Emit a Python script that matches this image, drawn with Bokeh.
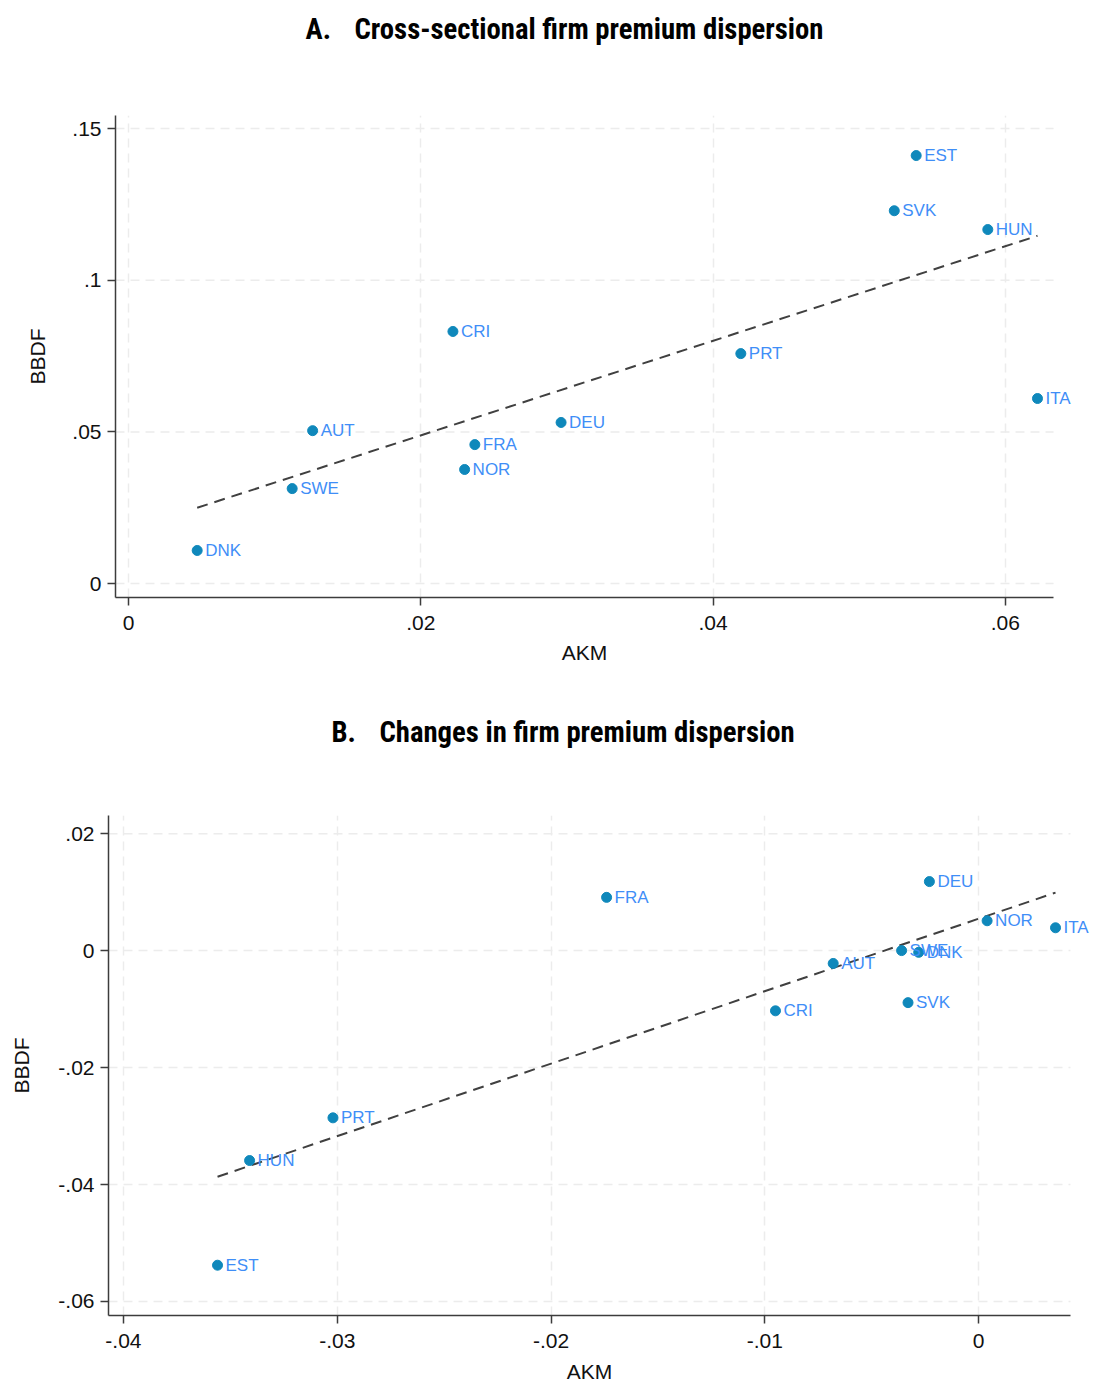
import numpy as np
from bokeh.plotting import figure
from bokeh.models import ColumnDataSource, Range1d, FixedTicker, LabelSet
from bokeh.core.properties import value
from bokeh.embed import file_html
from bokeh.resources import INLINE

# ---------------- data ----------------
# Panel A: cross-sectional firm premium dispersion
a_countries = ["EST", "SVK", "HUN", "CRI", "PRT", "ITA", "DEU", "AUT", "FRA", "NOR", "SWE", "DNK"]
a_akm = [0.0539, 0.0524, 0.0588, 0.0222, 0.0419, 0.0622, 0.0296, 0.0126, 0.0237, 0.0230, 0.0112, 0.0047]
a_bbdf = [0.1411, 0.1229, 0.1167, 0.0831, 0.0758, 0.0610, 0.0531, 0.0504, 0.0458, 0.0376, 0.0313, 0.0109]

# Panel B: changes in firm premium dispersion
b_countries = ["FRA", "DEU", "NOR", "ITA", "SWE", "DNK", "AUT", "SVK", "CRI", "PRT", "HUN", "EST"]
b_akm = [-0.0174, -0.0023, 0.0004, 0.0036, -0.0036, -0.0028, -0.0068, -0.0033, -0.0095, -0.0302, -0.0341, -0.0356]
b_bbdf = [0.0091, 0.0118, 0.0051, 0.0039, 0.0000, -0.0003, -0.0022, -0.0089, -0.0103, -0.0286, -0.0359, -0.0538]

a_xticks = [0.0, 0.02, 0.04, 0.06]
a_xlabels = ["0", ".02", ".04", ".06"]
a_yticks = [0.0, 0.05, 0.1, 0.15]
a_ylabels = ["0", ".05", ".1", ".15"]

b_xticks = [-0.04, -0.03, -0.02, -0.01, 0.0]
b_xlabels = ["-.04", "-.03", "-.02", "-.01", "0"]
b_yticks = [-0.06, -0.04, -0.02, 0.0, 0.02]
b_ylabels = ["-.06", "-.04", "-.02", "0", ".02"]

a_title = ("A.", "Cross-sectional firm premium dispersion")
b_title = ("B.", "Changes in firm premium dispersion")
x_title = "AKM"
y_title = "BBDF"

MARKER = "#0f88bb"
LABEL = "#3f8ef7"
AXIS = "#3c3c3c"
GRID = "#ececec"
FONT = "Liberation Sans"
TFONT = "Roboto Condensed"
W = 1095


def blank_fig(height):
    t = figure(width=W, height=height, output_backend="svg", toolbar_location=None,
               x_range=Range1d(0, W), y_range=Range1d(0, height),
               min_border_left=0, min_border_right=0, min_border_top=0, min_border_bottom=0)
    t.axis.visible = False
    t.grid.visible = False
    t.outline_line_color = None
    t.border_fill_color = "white"
    return t


def title_fig(parts, height, x_letter, x_text, cy_from_top):
    t = blank_fig(height)
    yy = height - cy_from_top
    t.text(x=[x_letter, x_text], y=[yy, yy], text=list(parts), text_align="left",
           text_baseline="middle", text_font=value(TFONT), text_font_style="bold",
           text_font_size="28.7px", text_color="black")
    return t


def xlabel_fig(height, cx, cy_from_top):
    t = blank_fig(height)
    t.text(x=[cx], y=[height - cy_from_top], text=[x_title], text_align="center",
           text_baseline="middle", text_font=value(FONT), text_font_size="21px",
           text_color="#111111")
    return t


def panel(countries, xs, ys, xticks, xlabels, yticks, ylabels,
          xr, x_end_axis, yr, height, mb, ylab_stand):
    p = figure(width=W, height=height, output_backend="svg", toolbar_location=None,
               x_range=Range1d(*xr), y_range=Range1d(*yr),
               min_border_left=mb[0], min_border_right=mb[1],
               min_border_top=mb[2], min_border_bottom=mb[3])
    p.outline_line_color = None
    p.background_fill_color = "white"
    p.border_fill_color = "white"

    for ax in (p.xaxis[0], p.yaxis[0]):
        ax.axis_line_color = AXIS
        ax.axis_line_width = 1.5
        ax.major_tick_line_color = AXIS
        ax.major_tick_line_width = 1.5
        ax.major_tick_out = 8
        ax.major_tick_in = 0
        ax.minor_tick_line_color = None
        ax.major_label_text_font = FONT
        ax.major_label_text_font_size = "21px"
        ax.major_label_text_color = "#111111"
        ax.axis_label_text_font = FONT
        ax.axis_label_text_font_size = "21px"
        ax.axis_label_text_font_style = "normal"
        ax.axis_label_text_color = "#111111"
    p.xaxis.major_label_standoff = 10
    p.yaxis.major_label_standoff = 6
    p.xaxis.ticker = FixedTicker(ticks=xticks)
    p.yaxis.ticker = FixedTicker(ticks=yticks)
    p.xaxis.major_label_overrides = dict(zip(xticks, xlabels))
    p.yaxis.major_label_overrides = dict(zip(yticks, ylabels))
    p.yaxis.axis_label = y_title
    p.yaxis.axis_label_standoff = ylab_stand
    p.yaxis.major_label_orientation = "horizontal"
    # x axis line stops where the plot region ends; extra frame room lets labels overflow
    p.xaxis.bounds = (xr[0], x_end_axis)

    p.xgrid.grid_line_color = GRID
    p.xgrid.grid_line_width = 1.5
    p.xgrid.grid_line_dash = "9 6"
    p.xgrid.ticker = FixedTicker(ticks=xticks)
    p.ygrid.visible = False
    # horizontal grid lines limited to the plot region
    p.segment(x0=[xr[0]] * len(yticks), x1=[x_end_axis] * len(yticks), y0=yticks, y1=yticks,
              line_color=GRID, line_width=1.5, line_dash="9 6", level="underlay")

    # fitted (OLS) line over the data range
    xa = np.array(xs)
    ya = np.array(ys)
    slope, intercept = np.polyfit(xa, ya, 1)
    lx = [xa.min(), xa.max()]
    ly = [intercept + slope * v for v in lx]
    p.line(lx, ly, line_color="#404040", line_width=2, line_dash="11 7")

    src = ColumnDataSource(dict(x=xs, y=ys, c=countries))
    p.scatter("x", "y", source=src, size=10, fill_color=MARKER, line_color=MARKER)
    p.add_layout(LabelSet(x="x", y="y", text="c", source=src, x_offset=8,
                          text_baseline="middle", text_align="left",
                          text_color=LABEL, text_font_size="17px", text_font=value(FONT)))
    return p


# Panel A: title 0..60, plot 60..642 (frame 115..597 page, axis x 115..1053), AKM 642..690
ta = title_fig(a_title, 60, 305, 354, 28)
pa = panel(a_countries, a_akm, a_bbdf, a_xticks, a_xlabels, a_yticks, a_ylabels,
           xr=(-0.00089, 0.06617), x_end_axis=0.0633, yr=(-0.0046, 0.1543),
           height=582, mb=(115, 0, 55, 45), ylab_stand=20)
xa_fig = xlabel_fig(48, 584, 10)

# Panel B: title 690..770, plot 770..1360 (frame 815..1315 page, axis x 108..1070), AKM 1360..1383
tb = title_fig(b_title, 80, 331, 379, 41)
pb = panel(b_countries, b_akm, b_bbdf, b_xticks, b_xlabels, b_yticks, b_ylabels,
           xr=(-0.0407, 0.00547), x_end_axis=0.0043, yr=(-0.0624, 0.0231),
           height=590, mb=(108, 0, 45, 45), ylab_stand=22)
xb_fig = xlabel_fig(23, 589, 11)

open("out.html", "w").write(file_html([ta, pa, xa_fig, tb, pb, xb_fig], INLINE))
